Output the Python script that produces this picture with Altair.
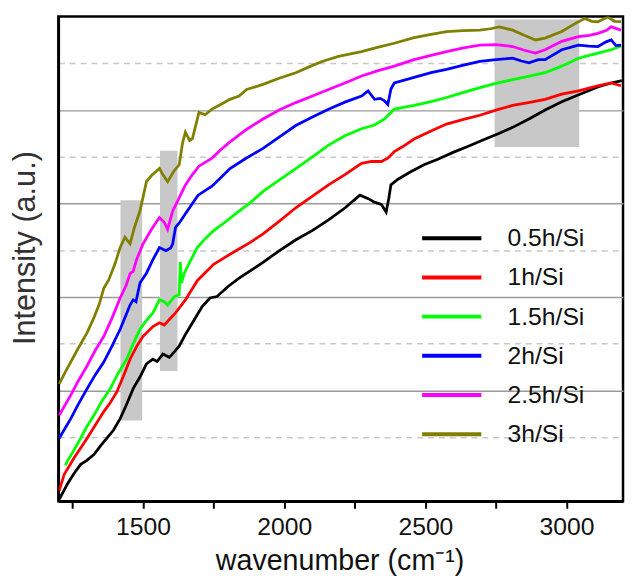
import altair as alt
import pandas as pd

series_names = ["0.5h/Si", "1h/Si", "1.5h/Si", "2h/Si", "2.5h/Si", "3h/Si"]
series_colors = ["#000000", "#ff0000", "#00ff00", "#0000ff", "#ff00ff", "#808000"]

x_05 = [1203, 1232, 1255, 1279, 1300, 1326, 1350, 1372, 1395, 1419, 1440, 1465, 1490, 1512, 1535, 1550, 1570, 1593, 1610, 1628, 1650, 1675, 1692, 1710, 1737, 1762, 1800, 1839, 1867, 1925, 1982, 2040, 2099, 2157, 2216, 2268, 2300, 2319, 2344, 2361, 2370, 2378, 2403, 2448, 2495, 2544, 2600, 2650, 2704, 2760, 2809, 2870, 2924, 2983, 3043, 3080, 3113, 3158, 3196]
y_05 = [-0.33, 0.00, 0.22, 0.42, 0.50, 0.63, 0.82, 0.98, 1.15, 1.40, 1.68, 2.04, 2.30, 2.57, 2.67, 2.62, 2.78, 2.71, 2.82, 2.95, 3.20, 3.45, 3.62, 3.80, 3.98, 4.01, 4.22, 4.40, 4.51, 4.74, 4.99, 5.22, 5.42, 5.65, 5.91, 6.18, 6.10, 6.03, 5.98, 5.82, 6.10, 6.40, 6.52, 6.68, 6.83, 6.95, 7.10, 7.22, 7.36, 7.50, 7.63, 7.82, 8.00, 8.18, 8.33, 8.42, 8.50, 8.58, 8.63]

x_1 = [1203, 1221, 1256, 1302, 1330, 1361, 1385, 1407, 1430, 1454, 1478, 1500, 1535, 1558, 1575, 1593, 1615, 1650, 1692, 1750, 1790, 1832, 1880, 1925, 1982, 2041, 2100, 2157, 2215, 2274, 2310, 2344, 2367, 2390, 2420, 2460, 2520, 2575, 2635, 2693, 2750, 2809, 2865, 2924, 2983, 3042, 3080, 3111, 3158, 3193]
y_1 = [-0.14, 0.21, 0.56, 0.98, 1.25, 1.55, 1.75, 1.97, 2.30, 2.67, 2.95, 3.16, 3.37, 3.45, 3.40, 3.52, 3.66, 3.94, 4.35, 4.70, 4.85, 5.00, 5.17, 5.35, 5.62, 5.91, 6.16, 6.40, 6.62, 6.86, 6.90, 6.90, 6.97, 7.11, 7.22, 7.38, 7.55, 7.70, 7.80, 7.89, 8.00, 8.10, 8.16, 8.23, 8.34, 8.41, 8.47, 8.52, 8.58, 8.52]

x_15 = [1225, 1232, 1255, 1279, 1300, 1326, 1355, 1384, 1410, 1442, 1465, 1489, 1512, 1535, 1558, 1575, 1587, 1611, 1628, 1632, 1636, 1646, 1670, 1692, 1720, 1750, 1790, 1832, 1880, 1925, 1982, 2041, 2100, 2157, 2215, 2274, 2320, 2355, 2390, 2460, 2520, 2575, 2635, 2693, 2750, 2809, 2865, 2924, 2983, 3042, 3080, 3111, 3158, 3193]
y_15 = [0.40, 0.49, 0.72, 0.98, 1.22, 1.47, 1.78, 2.04, 2.35, 2.67, 3.00, 3.31, 3.50, 3.66, 3.94, 3.90, 3.83, 4.01, 4.05, 4.75, 4.30, 4.51, 4.80, 5.06, 5.25, 5.42, 5.60, 5.80, 6.02, 6.26, 6.50, 6.75, 7.00, 7.25, 7.45, 7.60, 7.68, 7.81, 8.02, 8.10, 8.18, 8.27, 8.38, 8.48, 8.57, 8.65, 8.72, 8.80, 8.94, 9.11, 9.17, 9.22, 9.29, 9.37]

x_2 = [1203, 1244, 1270, 1302, 1330, 1361, 1390, 1419, 1440, 1454, 1465, 1475, 1489, 1512, 1535, 1558, 1581, 1598, 1605, 1615, 1630, 1650, 1695, 1744, 1775, 1808, 1865, 1925, 1982, 2041, 2100, 2157, 2215, 2274, 2297, 2320, 2340, 2355, 2367, 2378, 2390, 2460, 2520, 2575, 2635, 2693, 2750, 2809, 2840, 2867, 2900, 2924, 2983, 3042, 3080, 3111, 3140, 3158, 3175, 3193]
y_2 = [0.98, 1.40, 1.70, 2.04, 2.33, 2.61, 2.95, 3.31, 3.62, 3.83, 3.94, 3.90, 4.30, 4.51, 4.80, 5.06, 4.99, 5.05, 5.14, 5.49, 5.60, 5.78, 6.18, 6.37, 6.55, 6.75, 6.97, 7.18, 7.42, 7.67, 7.85, 8.02, 8.17, 8.30, 8.41, 8.23, 8.25, 8.20, 8.12, 8.45, 8.58, 8.70, 8.80, 8.87, 8.96, 9.04, 9.08, 9.11, 9.05, 9.01, 9.08, 9.08, 9.29, 9.39, 9.37, 9.36, 9.46, 9.50, 9.38, 9.39]

x_25 = [1203, 1244, 1270, 1302, 1330, 1361, 1390, 1419, 1440, 1454, 1465, 1477, 1500, 1530, 1558, 1575, 1587, 1605, 1630, 1650, 1675, 1698, 1744, 1775, 1808, 1865, 1925, 1982, 2041, 2100, 2157, 2215, 2274, 2330, 2390, 2460, 2520, 2575, 2635, 2693, 2750, 2809, 2850, 2890, 2924, 2983, 3042, 3080, 3111, 3140, 3158, 3193]
y_25 = [1.47, 1.90, 2.20, 2.53, 2.85, 3.16, 3.55, 3.98, 4.25, 4.50, 4.55, 4.80, 5.14, 5.45, 5.70, 5.60, 5.45, 5.84, 6.15, 6.40, 6.62, 6.80, 6.97, 7.15, 7.32, 7.58, 7.81, 8.00, 8.16, 8.30, 8.44, 8.58, 8.73, 8.84, 8.94, 9.08, 9.17, 9.25, 9.33, 9.39, 9.40, 9.36, 9.28, 9.22, 9.29, 9.47, 9.57, 9.60, 9.64, 9.70, 9.78, 9.71]

x_3 = [1203, 1225, 1244, 1270, 1302, 1326, 1345, 1361, 1378, 1400, 1419, 1436, 1446, 1454, 1470, 1489, 1512, 1530, 1558, 1570, 1587, 1610, 1628, 1640, 1650, 1665, 1675, 1698, 1720, 1744, 1775, 1808, 1840, 1867, 1925, 1982, 2041, 2090, 2134, 2192, 2274, 2330, 2390, 2460, 2520, 2575, 2635, 2693, 2730, 2762, 2809, 2850, 2890, 2924, 2983, 3030, 3064, 3090, 3111, 3146, 3170, 3193]
y_3 = [2.14, 2.40, 2.61, 2.90, 3.24, 3.56, 3.85, 4.19, 4.36, 4.70, 5.06, 5.28, 5.20, 5.14, 5.50, 5.84, 6.47, 6.60, 6.75, 6.62, 6.47, 6.70, 6.83, 7.30, 7.53, 7.35, 7.39, 7.95, 7.90, 8.02, 8.12, 8.23, 8.30, 8.44, 8.55, 8.68, 8.80, 8.93, 9.04, 9.15, 9.25, 9.34, 9.43, 9.55, 9.62, 9.68, 9.70, 9.71, 9.74, 9.78, 9.71, 9.60, 9.50, 9.54, 9.68, 9.85, 9.96, 9.90, 9.89, 9.99, 9.90, 9.89]

band_x1 = [1420, 1560, 2745]
band_x2 = [1497, 1622, 3045]
band_y1 = [1.36, 2.42, 7.21]
band_y2 = [6.07, 7.13, 9.94]

x_tick_values = [1250, 1500, 1750, 2000, 2250, 2500, 2750, 3000]
grid_values = [1, 2, 3, 4, 5, 6, 7, 8, 9]

all_x = [x_05, x_1, x_15, x_2, x_25, x_3]
all_y = [y_05, y_1, y_15, y_2, y_25, y_3]
rows = []
for name, xs, ys in zip(series_names, all_x, all_y):
    for i, (xv, yv) in enumerate(zip(xs, ys)):
        rows.append({"series": name, "x": xv, "y": yv, "i": i})
df = pd.DataFrame(rows)
bands = pd.DataFrame({"x1": band_x1, "x2": band_x2, "y1": band_y1, "y2": band_y2})

FONT = "Liberation Sans"
xscale = alt.Scale(domain=[1200, 3200], nice=False, zero=False)
yscale = alt.Scale(domain=[-0.37, 10.0], nice=False, zero=False)

xaxis = alt.Axis(
    values=x_tick_values,
    labelExpr="datum.value % 500 === 0 ? format(datum.value, 'd') : ''",
    labelFontSize=25, labelFont=FONT, labelColor="#111111",
    labelBaseline="alphabetic", labelPadding=27, labelFlush=False, labelOverlap=False,
    tickSize=7, tickWidth=2, tickColor="black",
    domainColor="black", domainWidth=2.5, grid=False,
    title="wavenumber (cm⁻¹)", titleFontSize=29, titleFont=FONT,
    titleFontWeight="normal", titleColor="#111111",
    titleAlign="left", titleX=159, titleY=69, titleBaseline="alphabetic",
)
yaxis = alt.Axis(
    values=grid_values, labels=False, ticks=False,
    domainColor="black", domainWidth=2.5,
    grid=True,
    gridColor={"condition": {"test": "datum.value % 2 === 0", "value": "#9a9a9a"}, "value": "#c8c8c8"},
    gridDash={"condition": {"test": "datum.value % 2 === 1", "value": [6, 5]}, "value": [1, 0]},
    gridWidth=1.5,
    title="Intensity (a.u.)", titleFontSize=31, titleFont=FONT,
    titleFontWeight="normal", titleColor="#333333",
    titleAngle=270, titleX=-17, titleY=234, titleAlign="center", titleBaseline="bottom",
)

rects = alt.Chart(bands).mark_rect(color="#c8c8c8").encode(
    x=alt.X("x1:Q", scale=xscale, axis=xaxis),
    x2="x2:Q",
    y=alt.Y("y1:Q", scale=yscale, axis=yaxis),
    y2="y2:Q",
)

lines = alt.Chart(df).mark_line(strokeWidth=2.8, clip=True).encode(
    x=alt.X("x:Q", scale=xscale),
    y=alt.Y("y:Q", scale=yscale),
    order="i:Q",
    color=alt.Color(
        "series:N",
        scale=alt.Scale(domain=series_names, range=series_colors),
        legend=alt.Legend(
            orient="none", legendX=386, legendY=212, title=None,
            symbolType="M-3,0L3,0", symbolSize=400, symbolStrokeWidth=4,
            labelFontSize=25, labelFont=FONT, labelColor="#111111",
            labelOffset=44, rowPadding=13.7, padding=0,
        ),
    ),
)

chart = alt.layer(rects, lines).properties(
    width=572, height=491,
    padding={"left": 51, "top": 5, "right": 2, "bottom": 76},
    autosize=alt.AutoSizeParams(type="none"),
).configure_view(stroke="black", strokeWidth=2.5)

chart.save("out.html", embed_options={"renderer": "svg", "actions": False})
